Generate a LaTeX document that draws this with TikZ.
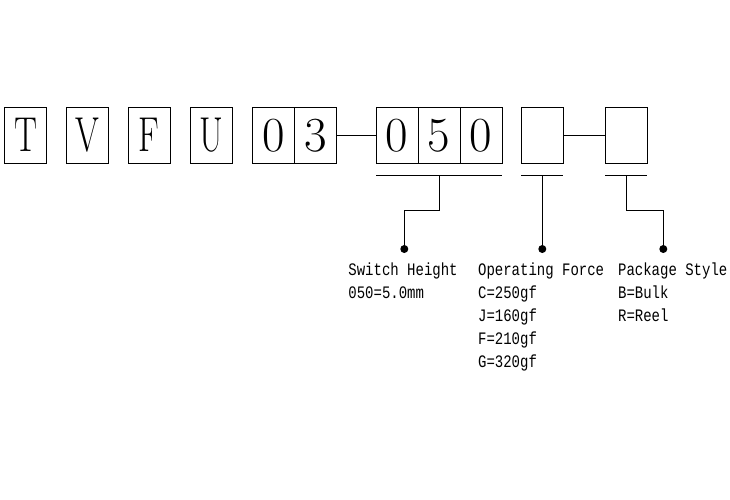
\documentclass[tikz,border=0pt]{standalone}
\usepackage{graphicx}
\usepackage{fontspec}
\newfontfamily\notefont[FakeStretch=0.8]{Liberation Mono}
\usetikzlibrary{positioning}
\begin{document}
\begin{tikzpicture}[x=1pt, y=-1pt, line width=0.8pt]
\tikzstyle{digit}=[draw, minimum width=42pt, minimum height=56pt, inner sep=0pt, outer sep=0pt, font=\fontsize{49}{49}\selectfont]
\tikzstyle{dot}=[circle, fill, minimum size=8pt, inner sep=0pt]
\tikzstyle{note}=[anchor=base west, inner sep=0pt, align=left, font=\notefont\fontsize{17.5}{23}\selectfont]
\useasboundingbox (0,0) rectangle (730,500);
    % part number boxes
    \node [digit] (t) at (25.8,135.3) {\scalebox{0.7}[1]{T}};
    \node [digit] (v) at (87.5,135.3) {\scalebox{0.7}[1]{V}};
    \node [digit] (f) at (149.3,135.3) {\scalebox{0.7}[1]{F}};
    \node [digit] (u) at (211.3,135.3) {\scalebox{0.7}[1]{U}};
    \node [digit] (z) at (273.3,135.3) {0};
    \node [digit, right=0pt of z] (th) {3};
    \node [digit] (h1) at (397.2,135.3) {0};
    \node [digit, right=0pt of h1] (h2) {5};
    \node [digit, right=0pt of h2] (h3) {0};
    \node [digit] (e1) at (542.3,135.3) {};
    \node [digit] (e2) at (626.3,135.3) {};
    \draw (th.east) -- (h1.west);
    \draw (e1.east) -- (e2.west);
    % underlines
    \draw ([yshift=-12pt]h1.south west) -- ([yshift=-12pt]h3.south east);
    \draw ([yshift=-12pt]e1.south west) -- ([yshift=-12pt]e1.south east);
    \draw ([yshift=-12pt]e2.south west) -- ([yshift=-12pt]e2.south east);
    % leaders
    \node [dot] (d1) at (404.3,249) {};
    \node [dot] (d2) at (542.3,249) {};
    \node [dot] (d3) at (663.3,249) {};
    \draw ([yshift=-12pt]h2.south) -- ++(0,35) -| (d1.center);
    \draw ([yshift=-12pt]e1.south) -- (d2.center);
    \draw ([yshift=-12pt]e2.south) -- ++(0,35) -| (d3.center);
    % notes (base = last line)
    \node [note] (s) at (348,298) {Switch Height\\050=5.0mm};
    \node [note] (o) at (477.7,367) {Operating Force\\C=250gf\\J=160gf\\F=210gf\\G=320gf};
    \node [note] (p) at (617.7,321) {Package Style\\B=Bulk\\R=Reel};
\end{tikzpicture}
\end{document}
